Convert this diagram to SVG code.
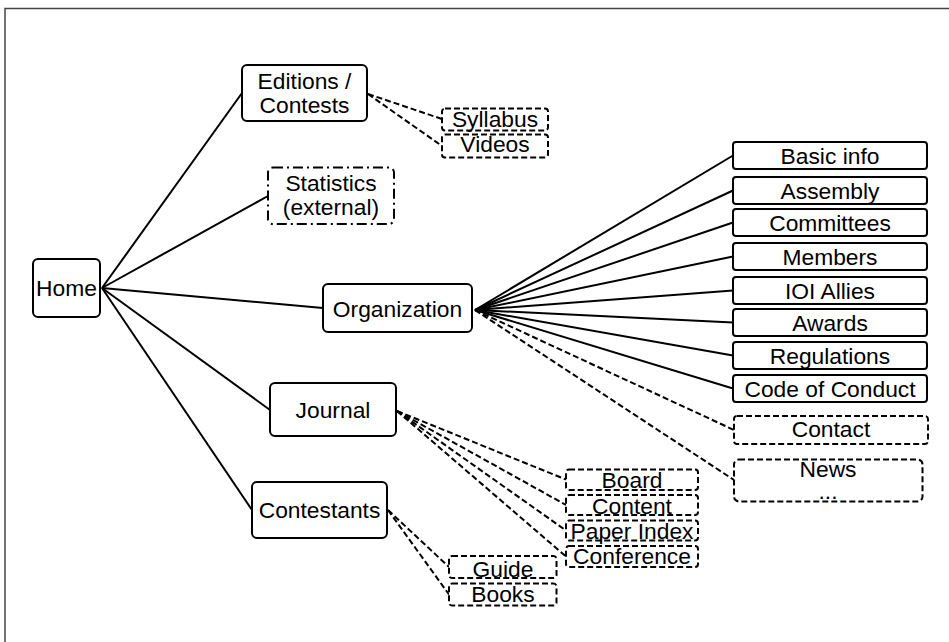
<svg xmlns="http://www.w3.org/2000/svg" width="949" height="642" viewBox="0 0 949 642">
<style>
.b{fill:#fff;stroke:#000;stroke-width:2}
.d{fill:#fff;stroke:#000;stroke-width:2;stroke-dasharray:6,3}
.dd{fill:#fff;stroke:#000;stroke-width:2;stroke-dasharray:10,4,2,4}
.l{stroke:#000;stroke-width:2;fill:none}
.ld{stroke:#000;stroke-width:2;fill:none;stroke-dasharray:6,3}
text{font-family:"Liberation Sans",Arial,sans-serif;font-size:22.8px;fill:#000;text-anchor:middle}
</style>
<rect x="0" y="0" width="949" height="642" fill="#fff"/>
<rect x="5" y="8.5" width="980" height="700" fill="none" stroke="#444" stroke-width="1.5"/>
<g id="connectors">
<line class="l" x1="102" y1="288" x2="242" y2="93"/>
<line class="l" x1="102" y1="288" x2="268" y2="196"/>
<line class="l" x1="102" y1="288" x2="323" y2="308"/>
<line class="l" x1="102" y1="288" x2="270" y2="410"/>
<line class="l" x1="102" y1="288" x2="252" y2="510"/>
<line class="ld" x1="368" y1="94" x2="442" y2="119"/>
<line class="ld" x1="368" y1="94" x2="442" y2="146"/>
<line class="l" x1="475" y1="310" x2="733" y2="155.5"/>
<line class="l" x1="475" y1="310" x2="733" y2="190.5"/>
<line class="l" x1="475" y1="310" x2="733" y2="222.5"/>
<line class="l" x1="475" y1="310" x2="733" y2="256.5"/>
<line class="l" x1="475" y1="310" x2="733" y2="290.5"/>
<line class="l" x1="475" y1="310" x2="733" y2="322.5"/>
<line class="l" x1="475" y1="310" x2="733" y2="355.5"/>
<line class="l" x1="475" y1="310" x2="733" y2="388.5"/>
<line class="ld" x1="475" y1="310" x2="734" y2="430"/>
<line class="ld" x1="475" y1="310" x2="734" y2="480"/>
<line class="ld" x1="397" y1="411" x2="566" y2="479.5"/>
<line class="ld" x1="397" y1="411" x2="566" y2="505"/>
<line class="ld" x1="397" y1="411" x2="566" y2="530.5"/>
<line class="ld" x1="397" y1="411" x2="566" y2="556.5"/>
<line class="ld" x1="388" y1="510" x2="449" y2="567"/>
<line class="ld" x1="388" y1="510" x2="449" y2="594.5"/>
</g>
<g id="home"><rect class="b" x="33" y="259" width="67" height="58" rx="5"/><text x="66.5" y="296">Home</text></g>
<g id="editions"><rect class="b" x="242" y="65" width="125" height="56" rx="5"/><text x="304.5" y="88.5">Editions /</text><text x="304.5" y="112.5">Contests</text></g>
<g id="syllabus"><rect class="d" x="442" y="108.5" width="106" height="22" rx="3"/><text x="495" y="126.5">Syllabus</text></g>
<g id="videos"><rect class="d" x="442" y="134.5" width="106" height="23" rx="3"/><text x="495" y="152">Videos</text></g>
<g id="statistics"><rect class="dd" x="268" y="167.5" width="126" height="56.5" rx="5"/><text x="331" y="191">Statistics</text><text x="331" y="214.5">(external)</text></g>
<g id="organization"><rect class="b" x="323" y="284" width="149" height="48" rx="5"/><text x="397.5" y="316.5">Organization</text></g>
<g id="journal"><rect class="b" x="270" y="383" width="126" height="53" rx="5"/><text x="333" y="418">Journal</text></g>
<g id="contestants"><rect class="b" x="252" y="482" width="135" height="56" rx="5"/><text x="319.5" y="517.5">Contestants</text></g>
<g id="basic-info"><rect class="b" x="733" y="142" width="194" height="27" rx="3"/><text x="830" y="163.5">Basic info</text></g>
<g id="assembly"><rect class="b" x="733" y="177" width="194" height="27" rx="3"/><text x="830" y="198.5">Assembly</text></g>
<g id="committees"><rect class="b" x="733" y="209" width="194" height="27" rx="3"/><text x="830" y="230.5">Committees</text></g>
<g id="members"><rect class="b" x="733" y="243" width="194" height="27" rx="3"/><text x="830" y="264.5">Members</text></g>
<g id="ioi-allies"><rect class="b" x="733" y="277" width="194" height="27" rx="3"/><text x="830" y="298.5">IOI Allies</text></g>
<g id="awards"><rect class="b" x="733" y="309" width="194" height="27" rx="3"/><text x="830" y="330.5">Awards</text></g>
<g id="regulations"><rect class="b" x="733" y="342" width="194" height="27" rx="3"/><text x="830" y="363.5">Regulations</text></g>
<g id="code-of-conduct"><rect class="b" x="733" y="375" width="194" height="27" rx="3"/><text x="830" y="396.5">Code of Conduct</text></g>
<g id="contact"><rect class="d" x="734" y="416" width="194" height="28" rx="3"/><text x="831" y="436.5">Contact</text></g>
<g id="news"><rect class="d" x="734" y="459.5" width="188.5" height="42" rx="5"/><text x="828" y="476.5">News</text><text x="828" y="499">...</text></g>
<g id="board"><rect class="d" x="566" y="469.5" width="132" height="20.5" rx="3"/><text x="632" y="488">Board</text></g>
<g id="content"><rect class="d" x="566" y="495" width="132" height="20" rx="3"/><text x="632" y="513.5">Content</text></g>
<g id="paper-index"><rect class="d" x="566" y="520.5" width="132" height="20" rx="3"/><text x="632" y="538.5">Paper Index</text></g>
<g id="conference"><rect class="d" x="566" y="546" width="132" height="21" rx="3"/><text x="632" y="563.5">Conference</text></g>
<g id="guide"><rect class="d" x="449" y="556" width="107.5" height="22" rx="3"/><text x="503" y="576.5">Guide</text></g>
<g id="books"><rect class="d" x="449" y="583.5" width="107.5" height="22" rx="3"/><text x="503" y="602">Books</text></g>
</svg>
